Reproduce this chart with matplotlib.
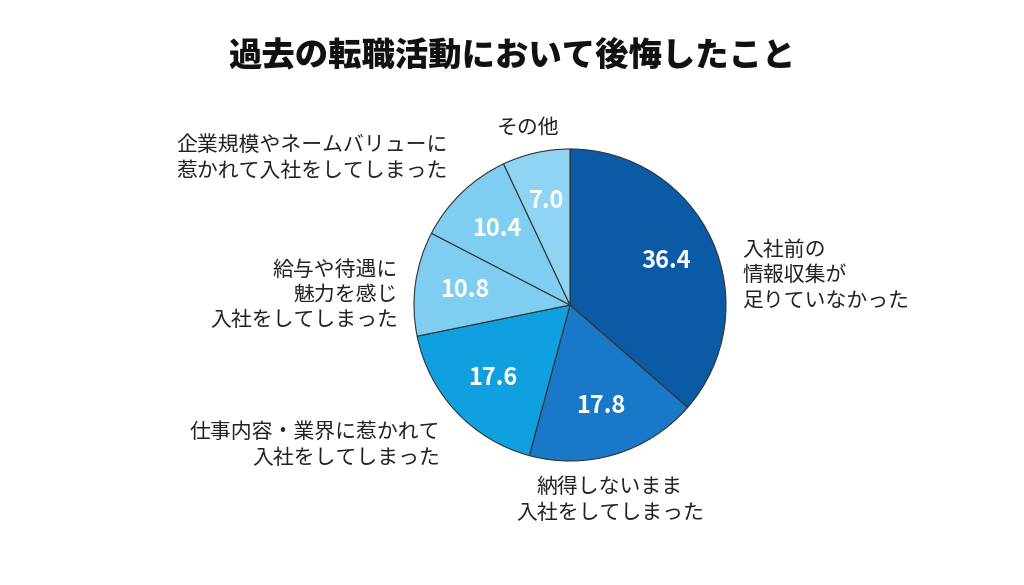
import matplotlib.pyplot as plt

plt.rcParams['font.family'] = 'Noto Sans CJK JP'

values = [36.4, 17.8, 17.6, 10.8, 10.4, 7.0]
value_labels = ['36.4', '17.8', '17.6', '10.8', '10.4', '7.0']
categories = ['入社前の\n情報収集が\n足りていなかった',
              '納得しないまま\n入社をしてしまった',
              '仕事内容・業界に惹かれて\n入社をしてしまった',
              '給与や待遇に\n魅力を感じ\n入社をしてしまった',
              '企業規模やネームバリューに\n惹かれて入社をしてしまった',
              'その他']
colors = ['#0b5aa6', '#1a78c8', '#10a0e0', '#7fcdf0', '#7fcdf0', '#8fd5f3']

fig = plt.figure(figsize=(10.24, 5.85), dpi=100)
ax = fig.add_axes([0, 0, 1, 1])

H = 585
cx, cy, r = 570, H - 305, 156
ax.pie(values, colors=colors, startangle=90, counterclock=False,
       center=(cx, cy), radius=r, frame=True,
       wedgeprops=dict(edgecolor='#333333', linewidth=0.8),
       labels=value_labels, labeldistance=0.68,
       textprops=dict(color='white', fontsize=17, fontweight='bold',
                      ha='center', va='center'))
ax.set_xlim(0, 1024)
ax.set_ylim(0, 585)
ax.set_aspect('equal')
ax.axis('off')
# the pie labels have labeldistance applied; the value text is placed by pie itself
for t in ax.texts:
    t.set_ha('center')

ax.text(512, H - 55, '過去の転職活動において後悔したこと', ha='center', va='center',
        fontsize=24, fontweight='heavy', color='#111111')

label_pos = [(742, H - 275, 'left'), (610, H - 500, 'center'),
             (440, H - 445, 'right'), (398, H - 295, 'right'),
             (448, H - 158, 'right'), (528, H - 128, 'center')]
for (x, y, ha), txt in zip(label_pos, categories):
    ax.text(x, y, txt, ha=ha, va='center', fontsize=15, color='#222222',
            linespacing=1.2)

fig.savefig('out.png', dpi=100, facecolor='white')
